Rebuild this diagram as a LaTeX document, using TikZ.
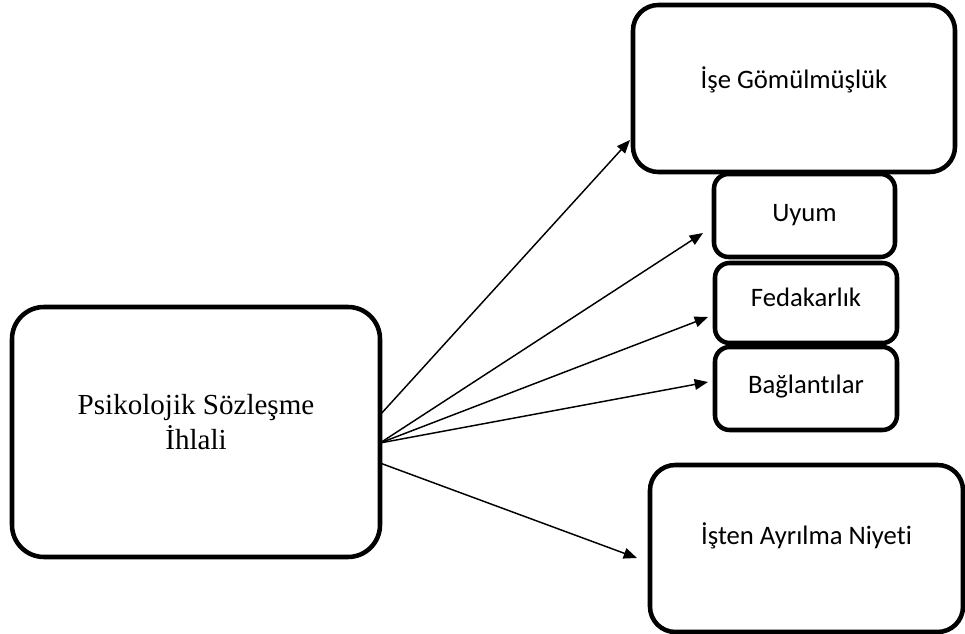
\documentclass[tikz,border=0pt]{standalone}
\usepackage{fontspec}
\setmainfont{Liberation Serif}
\newfontfamily\calibrifont[Ligatures=NoCommon]{Carlito}
\usepackage{tikz}
\usetikzlibrary{arrows.meta}
\newdimen\pxu \pxu=0.75pt

\begin{document}
\begin{tikzpicture}[
            x = 0.75pt, y = -0.75pt, % one unit is one pixel
            >= {Triangle[length=10pt,width=8pt]}, % arrow head style
            line width = 1.1pt % line style
        ]

        \tikzstyle{bigbox}=[
            draw = black,
            line width = 3.4pt,
            outer sep = 0pt,
            fill = white,
            rounded corners = 19pt,
            align = center,
            font = \calibrifont\fontsize{20}{24}\selectfont
        ]
        \tikzstyle{smallbox}=[
            bigbox,
            rounded corners = 11pt,
            minimum width = 182\pxu,
            minimum height = 82\pxu
        ]

\useasboundingbox (0,0) rectangle (965,634);
\node[bigbox, rounded corners=24pt, minimum width=368\pxu, minimum height=250\pxu, text depth=15pt,
      font=\fontsize{21.8}{26}\selectfont] (PSI) at (196,432) {Psikolojik Sözleşme\\İhlali};
\node[bigbox, minimum width=322\pxu, minimum height=167\pxu, text depth=16pt] (IGE) at (794,88.5) {İşe Gömülmüşlük};
\node[smallbox, minimum width=181\pxu, minimum height=83\pxu] (UYM) at (804.5,215.5) {Uyum};
\node[smallbox, minimum height=80\pxu, text depth=9pt] (FDK) at (806,303) {Fedakarlık};
\node[smallbox, minimum height=83\pxu, text depth=6pt] (BGL) at (806,388.5) {Bağlantılar};
\node[bigbox, minimum width=313\pxu, minimum height=167\pxu, text depth=22pt] (IAN) at (806.5,548.5) {İşten Ayrılma Niyeti};

 \path [->] ([yshift=17\pxu]PSI.east) edge ([xshift=-3\pxu,yshift=-51.5\pxu]IGE.west);
 \path [->] ([yshift=-11\pxu]PSI.east) edge ([xshift=-11\pxu,yshift=-17.5\pxu]UYM.west);
 \path [->] ([yshift=-11\pxu]PSI.east) edge ([xshift=-7\pxu,yshift=-14\pxu]FDK.west);
 \path [->] ([yshift=-11\pxu]PSI.east) edge ([xshift=-7\pxu,yshift=6.5\pxu]BGL.west);
 \path [->] ([yshift=-31\pxu]PSI.east) edge ([xshift=-13\pxu,yshift=-9.5\pxu]IAN.west);
\end{tikzpicture}
\end{document}
